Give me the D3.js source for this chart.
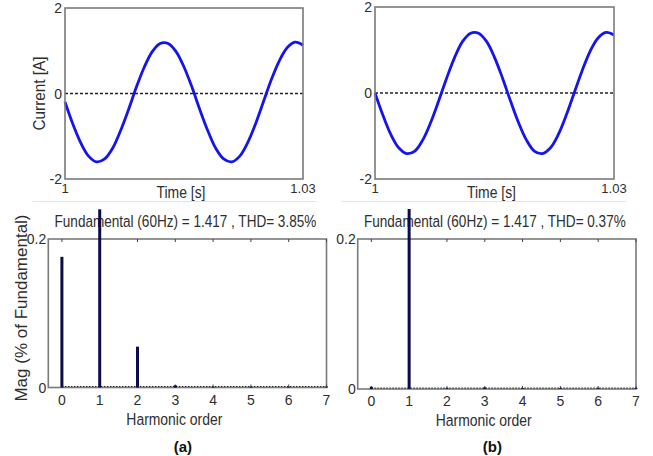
<!DOCTYPE html>
<html><head><meta charset="utf-8">
<script src="https://cdn.jsdelivr.net/npm/d3@7"></script>
<style>body{margin:0;background:#fff}svg{display:block}text{font-family:"Liberation Sans",Arial,sans-serif}</style>
</head><body>
<svg id="c" width="653" height="456"></svg>
<script>
// time samples (ms after t = 1 s)
const timeMs = d3.range(0, 31, 1);
// current (a) [A]
const currentA = [-0.20,-0.72,-1.16,-1.47,-1.60,-1.53,-1.28,-0.87,-0.38,0.15,0.62,0.98,1.17,1.17,0.98,0.62,0.15,-0.38,-0.87,-1.28,-1.53,-1.60,-1.47,-1.16,-0.72,-0.20,0.32,0.76,1.07,1.20,1.13];
// current (b)
const currentB = [0,-0.52,-0.97,-1.28,-1.41,-1.35,-1.09,-0.68,-0.18,0.35,0.83,1.20,1.39,1.39,1.20,0.83,0.35,-0.18,-0.68,-1.09,-1.35,-1.41,-1.28,-0.97,-0.52,0,0.52,0.97,1.28,1.41,1.35];
const harmonicOrders = [0,1,2,3,4,5,6,7];
const magA = [0.176,0.24,0.055,0.003,0.001,0.001,0.001,0.001];
const magB = [0.003,0.24,0.001,0.002,0.001,0.001,0.001,0.001];
const timeTicks = [1, 1.03];
const timeTickLabels = ["1","1.03"];
const currentTicks = [-2,0,2];
const magTicks = [0,0.2];
const titles = ["Fundamental (60Hz) = 1.417 , THD= 3.85%","Fundamental (60Hz) = 1.417 , THD= 0.37%"];
const panelLabels = ["(a)","(b)"];

const svg = d3.select("#c");
const frameCol = "#7a7a7a", txtCol = "#2e2e2e";

// horizontally condensed text: drawn at (cx, y), scaled to width w (rot = rotation)
function squeezed(g, cx, y, str, size, w, rot){
  const t = g.append("text").attr("text-anchor","middle").attr("font-size",size).attr("fill",txtCol).text(str);
  const nat = t.node().getComputedTextLength();
  const s = Math.min(1, w / nat);
  t.attr("transform",`translate(${cx},${y}) rotate(${rot||0}) scale(${s},1)`);
  return t;
}

function topPanel(x0,x1,y0,y1,data,showYLabel){
  const x = d3.scaleLinear().domain([1,1.03]).range([x0,x1]);
  const y = d3.scaleLinear().domain([-2,2]).range([y1,y0]);
  const g = svg.append("g");
  g.append("line").attr("x1",x0).attr("x2",x1).attr("y1",y(0)).attr("y2",y(0))
    .attr("stroke","#222").attr("stroke-width",1.3).attr("stroke-dasharray","3,2");
  const line = d3.line().x((d,i)=>x(1+timeMs[i]/1000)).y(d=>y(d)).curve(d3.curveCatmullRom.alpha(0.5));
  g.append("path").datum(data).attr("d",line).attr("fill","none").attr("stroke","#1414f0").attr("stroke-width",2.8);
  g.append("rect").attr("x",x0).attr("y",y0).attr("width",x1-x0).attr("height",y1-y0)
    .attr("fill","none").attr("stroke",frameCol).attr("stroke-width",1.6);
  g.selectAll(".yt").data(currentTicks).enter().append("text")
    .attr("x",x0-3).attr("y",d=>y(d)+5).attr("text-anchor","end").attr("font-size",14)
    .attr("fill",txtCol).text(d=>d);
  g.selectAll(".xt").data(timeTicks).enter().append("text")
    .attr("x",d=>x(d)).attr("y",y1+14).attr("text-anchor","middle").attr("font-size",13)
    .attr("fill",txtCol).text((d,i)=>timeTickLabels[i]);
  squeezed(g,(x0+x1)/2-3,y1+19,"Time [s]",16,49,0);
  if(showYLabel){
    squeezed(g,x0-20,y(0),"Current [A]",16,74,-90);
  }
}

function bottomPanel(x0,x1,y0,y1,data,title,label,showYLabel){
  const x = d3.scaleLinear().domain([-0.36,7]).range([x0,x1]);
  const y = d3.scaleLinear().domain([0,0.2]).range([y1,y0]);
  const g = svg.append("g");
  // separator
  g.append("line").attr("x1",x0-16).attr("x2",x1-10).attr("y1",201.5).attr("y2",201.5)
    .attr("stroke","#e4e4e4").attr("stroke-width",1);
  squeezed(g,(x0+x1)/2-2,y0-12,title,17,262,0);
  g.append("rect").attr("x",x0).attr("y",y0).attr("width",x1-x0).attr("height",y1-y0)
    .attr("fill","none").attr("stroke",frameCol).attr("stroke-width",1.6);
  // dotted baseline
  g.append("line").attr("x1",x(0)).attr("x2",x1+2).attr("y1",y1-1).attr("y2",y1-1)
    .attr("stroke","#222").attr("stroke-width",1.2).attr("stroke-dasharray","1.5,1.5");
  // ticks
  g.selectAll(".tb").data(harmonicOrders).enter().append("line")
    .attr("x1",d=>x(d)).attr("x2",d=>x(d)).attr("y1",y1).attr("y2",y1-3).attr("stroke","#444");
  g.selectAll(".tt").data(harmonicOrders).enter().append("line")
    .attr("x1",d=>x(d)).attr("x2",d=>x(d)).attr("y1",y0).attr("y2",y0+3).attr("stroke","#444");
  // bars
  g.selectAll(".bar").data(data).enter().append("rect")
    .attr("x",(d,i)=>x(harmonicOrders[i])-1.5).attr("width",3)
    .attr("y",d=>y(d)).attr("height",d=>y1-y(d)).attr("fill","#0c0c4a");
  g.selectAll(".xl").data(harmonicOrders).enter().append("text")
    .attr("x",d=>x(d)).attr("y",y1+17).attr("text-anchor","middle").attr("font-size",14)
    .attr("fill",txtCol).text(d=>d);
  g.selectAll(".yl").data(magTicks).enter().append("text")
    .attr("x",x0-2).attr("y",d=>y(d)+5).attr("text-anchor","end").attr("font-size",14)
    .attr("fill",txtCol).text(d=>d);
  squeezed(g,x(3)-1,y1+37,"Harmonic order",17,96,0);
  if(showYLabel){
    squeezed(g,x0-21,308,"Mag (% of Fundamental)",17,190,-90);
  }
  g.append("text").attr("x",x(3.2)).attr("y",452).attr("text-anchor","middle")
    .attr("font-family","Liberation Serif,Times New Roman,serif").attr("font-weight","bold")
    .attr("font-size",15).attr("fill","#111").text(label);
}

topPanel(65,303,8,179,currentA,true);
topPanel(375,614,7,179,currentB,false);
bottomPanel(48.3,326.5,239,387.5,magA,titles[0],panelLabels[0],true);
bottomPanel(357.7,636,239,389,magB,titles[1],panelLabels[1],false);
</script>
</body></html>
